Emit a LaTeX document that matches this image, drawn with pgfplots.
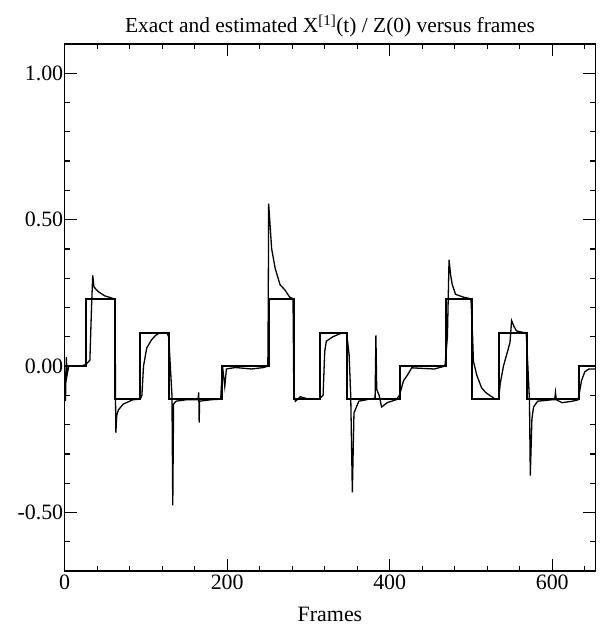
\documentclass[border=0pt]{standalone}
\usepackage{fontspec}
\setmainfont{Liberation Serif}
\usepackage{pgfplots}
\pgfplotsset{compat=1.18}

\begin{document}
\begin{tikzpicture}
% fixes the page to the reference's 607 x 629 frame
\useasboundingbox (-64.7bp,-58bp) rectangle (542.3bp,571bp);
\begin{axis}[
  scale only axis,
  width=530.6bp, height=527bp,
  xmin=0, xmax=653,
  ymin=-0.7, ymax=1.1,
  xtick={0,200,400,600},
  xticklabels={0,200,400,600},
  minor xtick={40,80,120,160,240,280,320,360,440,480,520,560,640},
  ytick={-0.5,0,0.5,1},
  yticklabels={-0.50,0.00,0.50,1.00},
  minor ytick={-0.6,-0.4,-0.3,-0.2,-0.1,0.1,0.2,0.3,0.4,0.6,0.7,0.8,0.9},
  tick align=inside,
  major tick length=12bp,
  minor tick length=5bp,
  tick style={black, line width=1.3bp},
  axis line style={line width=1.5bp},
  ticklabel style={font=\fontsize{22}{25}\selectfont},
  yticklabel style={xshift=2bp},
  clip=false,
]
% exact
\addplot[black, line width=2bp] coordinates {
  (0,0) (26,0) (26,0.23) (62,0.23) (62,-0.113) (93,-0.113) (93,0.113)
  (128,0.113) (128,-0.113) (193,-0.113) (193,0) (251,0) (251,0.23)
  (282,0.23) (282,-0.113) (314,-0.113) (314,0.113) (348,0.113)
  (348,-0.113) (413,-0.113) (413,0) (469,0) (469,0.23) (501,0.23)
  (501,-0.113) (534,-0.113) (534,0.113) (569,0.113) (569,-0.113)
  (633,-0.113) (633,0) (652,0)
};
% estimated
\addplot[black, line width=1.3bp] coordinates {
  (0,-0.02) (1,-0.12) (2,0.03) (3,-0.03) (5,0.0) (10,0.0) (20,0.0)
  (26,0.005) (31,0.02) (33,0.2) (34.5,0.31) (36,0.27) (41,0.255)
  (49,0.24) (55,0.235) (60,0.23) (62,0.225) (62.5,-0.1) (63,-0.227)
  (64,-0.17) (66,-0.15) (72,-0.13) (84,-0.115) (93,-0.113) (95,-0.1)
  (97,0.0) (101,0.062) (107,0.09) (112,0.105) (117,0.113) (126,0.113)
  (128,0.1) (130,0.0) (132,-0.1) (133,-0.476) (134,-0.13) (137,-0.12)
  (150,-0.115) (164,-0.115) (165,-0.09) (165.5,-0.193) (166,-0.12)
  (180,-0.115) (192,-0.113) (193,-0.06) (195,-0.02) (197,-0.07)
  (199,-0.01) (210,-0.005) (230,-0.01) (245,-0.005) (250,0.0)
  (250.5,0.2) (251,0.555) (254.7,0.40) (259,0.334) (265,0.278)
  (271,0.26) (277,0.235) (281,0.23) (282,-0.1) (284,-0.12) (290,-0.105)
  (300,-0.113) (313,-0.113) (318,-0.1) (320,0.05) (322,0.085) (330,0.1)
  (341,0.113) (347,0.113) (350,0.04) (352,-0.1) (354,-0.431)
  (356,-0.16) (359,-0.14) (362,-0.12) (375,-0.113) (382,-0.11)
  (383,0.105) (384,-0.08) (387,-0.1) (390,-0.14) (397,-0.125)
  (408,-0.115) (412,-0.1) (417,-0.05) (422,-0.03) (427,-0.006)
  (440,-0.008) (455,-0.01) (468,0.0) (471,0.1) (473,0.363) (475,0.31)
  (477,0.278) (481,0.245) (491,0.235) (500,0.23) (502,0.1) (503,0.017)
  (507,-0.03) (513,-0.074) (518,-0.09) (523,-0.1) (530,-0.113)
  (534,-0.113) (536,-0.06) (540,0.0) (544,0.04) (548,0.08) (550,0.155)
  (553,0.135) (556,0.12) (564,0.115) (568,0.113) (570,0.0) (572,-0.12)
  (573,-0.374) (575,-0.18) (577,-0.14) (582,-0.12) (600,-0.115)
  (603,-0.115) (604,-0.09) (605,-0.115) (612,-0.125) (625,-0.12)
  (632,-0.115) (636,-0.05) (640,-0.02) (645,-0.01) (653,-0.01)
};
\end{axis}
\node[anchor=base, font=\fontsize{21.5}{24}\selectfont] at (265.3bp,538bp)
  {Exact and estimated X\textsuperscript{[1]}(t) / Z(0) versus frames};
\node[anchor=base, font=\fontsize{22}{25}\selectfont] at (265.3bp,-50.7bp) {Frames};
\end{tikzpicture}
\end{document}
